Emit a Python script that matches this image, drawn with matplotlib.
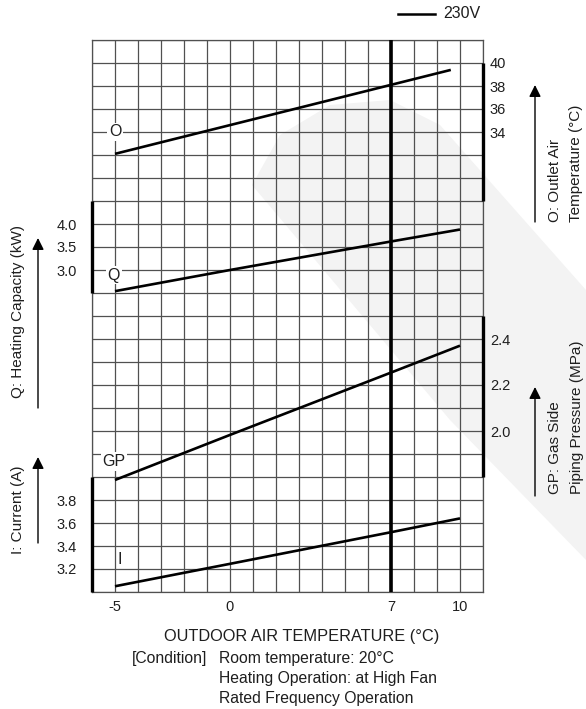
import numpy as np
import matplotlib
matplotlib.use("Agg")
import matplotlib.pyplot as plt
from matplotlib.patches import Polygon, FancyArrowPatch

plt.rcParams['font.family'] = ['Liberation Sans', 'DejaVu Sans']

# ---------------- data ----------------
temp_outlet = [-5, 7, 9.6]
outlet_temp = [32.1, 38.1, 39.4]          # O: outlet air temperature (°C)

temp = [-5, 0, 7, 10]
capacity = [2.54, 3.0, 3.62, 3.88]         # Q: heating capacity (kW)
gas_pressure = [1.787, 1.983, 2.254, 2.371]  # GP: gas side piping pressure (MPa)
current = [3.05, 3.245, 3.52, 3.64]        # I: current (A)

x_ticks = [-5, 0, 7, 10]
o_ticks = [34, 36, 38, 40]
q_ticks = [3.0, 3.5, 4.0]
gp_ticks = [2.0, 2.2, 2.4]
i_ticks = [3.2, 3.4, 3.6, 3.8]

# ---------------- figure ----------------
W, H = 586, 709
fig = plt.figure(figsize=(W / 100, H / 100), dpi=100)
fig.patch.set_facecolor('white')
TXT = '#1e1e1e'

def px(x, y):
    return (x / W, 1 - y / H)

# faint watermark band (background)
bg = fig.add_axes([0, 0, 1, 1], zorder=-10)
bg.set_xlim(0, 1); bg.set_ylim(0, 1); bg.axis('off')
bg.add_patch(Polygon([px(252, 185), px(280, 135), px(330, 105), px(390, 100), px(440, 125),
                      px(586, 290), px(586, 560), px(450, 420)],
                     closed=True, facecolor='#f3f3f3', edgecolor='none'))

L, R, T, B = 92, 483, 40, 592
ax = fig.add_axes([L / W, 1 - B / H, (R - L) / W, (B - T) / H])
ax.patch.set_alpha(0)
NROWS = 24
ax.set_xlim(-6, 11)
ax.set_ylim(0, NROWS)
ax.set_xticks(np.arange(-6, 12))
ax.set_yticks(np.arange(0, NROWS + 1))
ax.set_xticklabels([str(v) if v in x_ticks else '' for v in range(-6, 12)], fontsize=10.5)
ax.set_yticklabels([])
ax.tick_params(length=0, pad=6, colors=TXT)
ax.grid(True, color='#505050', lw=0.9)
for s in ax.spines.values():
    s.set_color('#505050')
    s.set_linewidth(0.9)
ax.axvline(7, color='black', lw=2.6, zorder=3)

def make_scale(value_at_row0, per_row, side, bounds, ticks, fmt, pad):
    t = ax.twinx()
    t.set_ylim(value_at_row0, value_at_row0 + NROWS * per_row)
    for name, s in t.spines.items():
        s.set_visible(False)
    sp = t.spines[side]
    sp.set_visible(True)
    sp.set_bounds(*bounds)
    sp.set_linewidth(2.4)
    sp.set_color('black')
    sp.set_capstyle('butt')
    t.yaxis.set_ticks_position(side)
    t.set_yticks(ticks)
    t.set_yticklabels([fmt.format(v) for v in ticks], fontsize=10.5, color=TXT)
    t.tick_params(length=0, pad=pad)
    return t

# O: row 17 -> 28 °C, 2 °C per row
ax_o = make_scale(-6, 2.0, 'right', (28, 40), o_ticks, '{:d}', 5)
# Q: row 13 -> 2.5 kW, 0.5 kW per row
ax_q = make_scale(-4.0, 0.5, 'left', (2.5, 4.5), q_ticks, '{:.1f}', 11)
# GP: row 5 -> 1.8 MPa, 0.1 per row
ax_gp = make_scale(1.3, 0.1, 'right', (1.8, 2.5), gp_ticks, '{:.1f}', 5)
# I: row 0 -> 3.0 A, 0.2 per row
ax_i = make_scale(3.0, 0.2, 'left', (3.0, 4.0), i_ticks, '{:.1f}', 11)

lw = 1.9
ax_o.plot(temp_outlet, outlet_temp, color='black', lw=lw, solid_capstyle='butt')
ax_q.plot(temp, capacity, color='black', lw=lw, solid_capstyle='butt')
ax_gp.plot(temp, gas_pressure, color='black', lw=lw, solid_capstyle='butt')
ax_i.plot(temp, current, color='black', lw=lw, solid_capstyle='butt')

box = dict(facecolor='white', edgecolor='none', pad=1.2)
ax_o.text(-5, 34, 'O', ha='center', va='center', fontsize=11.5, color=TXT, bbox=box)
ax_q.text(-5.05, 2.89, 'Q', ha='center', va='center', fontsize=11.5, color=TXT, bbox=box)
ax_gp.text(-5.05, 1.867, 'GP', ha='center', va='center', fontsize=11.5, color=TXT, bbox=box)
ax_i.text(-4.8, 3.28, 'I', ha='center', va='center', fontsize=11.5, color=TXT,
          bbox=dict(facecolor='white', edgecolor='none', pad=0.5))

# legend
fig.add_artist(plt.Line2D([398 / W, 435 / W], [1 - 14 / H, 1 - 14 / H], color='black', lw=1.8))
fig.text(443 / W, 1 - 14 / H, '230V', ha='left', va='center', fontsize=11.5, color=TXT)

def ftext(x, y, s, **kw):
    fig.text(x / W, 1 - y / H, s, color=TXT, **kw)

ftext(555, 222, 'O: Outlet Air', rotation=90, ha='center', va='bottom', fontsize=11)
ftext(576, 222, 'Temperature (°C)', rotation=90, ha='center', va='bottom', fontsize=11)
ftext(555, 494, 'GP: Gas Side', rotation=90, ha='center', va='bottom', fontsize=11)
ftext(577, 494, 'Piping Pressure (MPa)', rotation=90, ha='center', va='bottom', fontsize=11)
ftext(18, 398, 'Q: Heating Capacity (kW)', rotation=90, ha='center', va='bottom', fontsize=11)
ftext(18, 554, 'I: Current (A)', rotation=90, ha='center', va='bottom', fontsize=11)

def farrow(x, y0, y1):
    fig.add_artist(FancyArrowPatch(
        (x / W, 1 - y0 / H), (x / W, 1 - y1 / H), transform=fig.transFigure,
        arrowstyle='-|>,head_length=7,head_width=3.5', mutation_scale=1,
        color='black', lw=1.0, shrinkA=0, shrinkB=0))

farrow(535, 222, 85)
farrow(535, 496, 387)
farrow(38, 408, 238)
farrow(38, 543, 457)

ftext(302, 637, 'OUTDOOR AIR TEMPERATURE (°C)', ha='center', va='center', fontsize=11.8)
ftext(132, 659, '[Condition]', ha='left', va='center', fontsize=11.3)
ftext(219, 659, 'Room temperature: 20°C', ha='left', va='center', fontsize=11.3)
ftext(219, 679, 'Heating Operation: at High Fan', ha='left', va='center', fontsize=11.3)
ftext(219, 698, 'Rated Frequency Operation', ha='left', va='center', fontsize=11.3)

fig.savefig('out.png', dpi=100, facecolor='white')
